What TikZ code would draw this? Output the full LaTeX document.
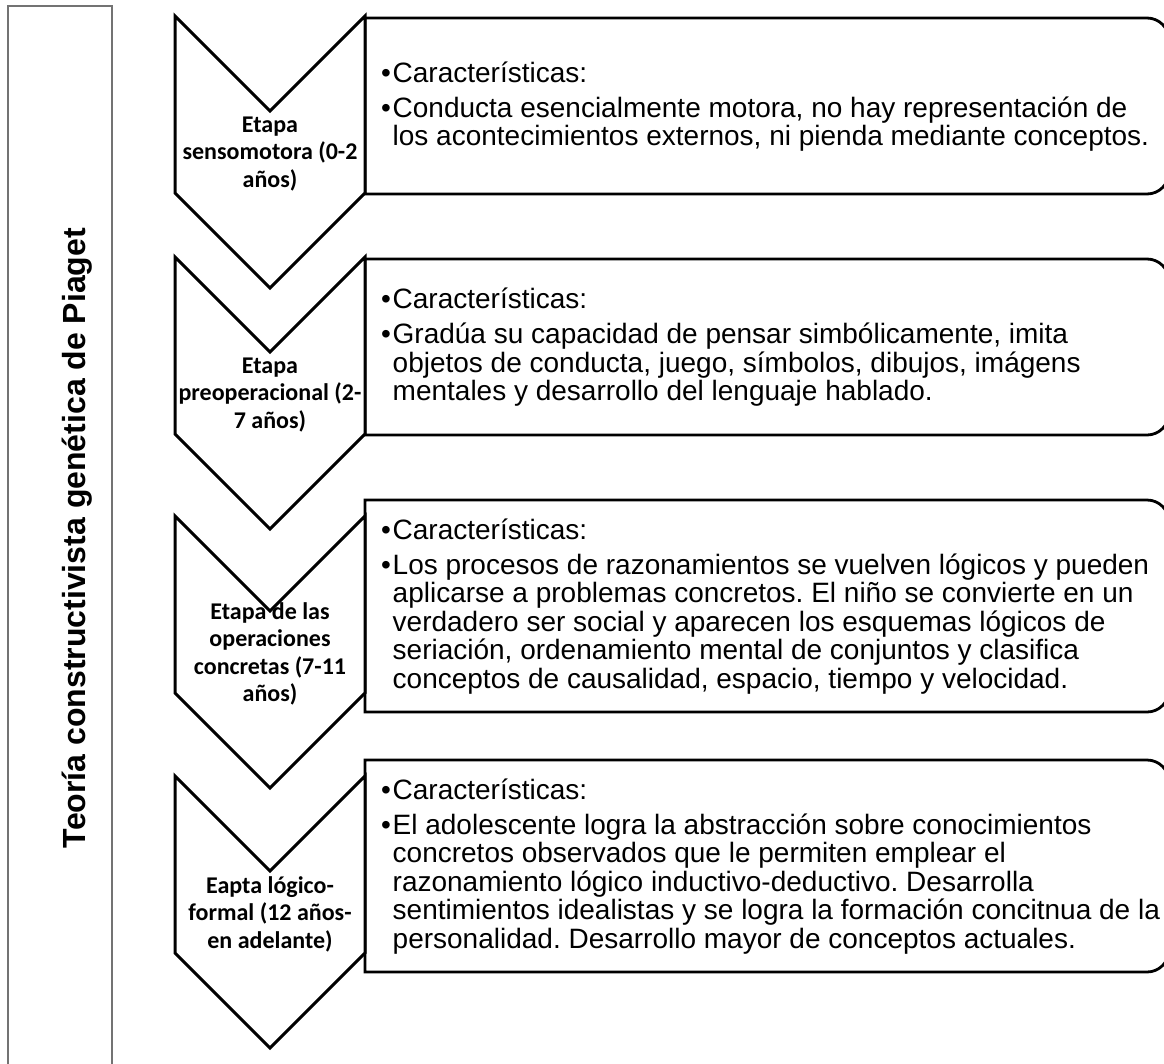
\documentclass[tikz,border=0pt]{standalone}
\usepackage{fontspec}
\setmainfont{Liberation Sans}
\newfontfamily\chevfont{Carlito}
\frenchspacing
\newcommand{\bulline}[1]{\hbox{\makebox[11.5pt][l]{•}#1}}
\newcommand{\contline}[1]{\hbox{\hspace{11.5pt}#1}}
\newcommand{\paragap}{\vskip 6.5pt}
\begin{document}
\begin{tikzpicture}[x=1pt,y=-1pt,
  chev/.style={draw=black, line width=3pt, fill=white, line join=miter},
  infobox/.style={draw=black, line width=2.8pt, fill=white},
  framebox/.style={draw=black!55, line width=1.3pt},
  chevtext/.style={font=\chevfont\bfseries\fontsize{24}{27.5}\selectfont, align=center, inner sep=0pt},
  infotext/.style={font=\frenchspacing\fontsize{28}{28.5}\selectfont, inner sep=0pt, anchor=base west},
  titletext/.style={font=\bfseries\fontsize{32}{38}\selectfont, inner sep=0pt, anchor=base, rotate=90}
]
\useasboundingbox (0,0) rectangle (1164,1063);
\clip (0,0) rectangle (1164,1063);
\fill[white] (0,0) rectangle (1164,1063);

% left frame with title
\draw[framebox] (8,1075) -- (8,6) -- (112,6) -- (112,1075);
\node[titletext] (title) at (85,538) {Teoría constructivista genética de Piaget};

% right boxes (rounded on the right side)
\foreach \t/\b in {18/194, 259/435, 500/712, 760/972}{
  \draw[infobox] (365,\t) -- (1147,\t) .. controls (1159.14,\t) and (1169,\t+9.86) .. (1169,\t+22)
    -- (1169,\b-22) .. controls (1169,\b-9.86) and (1159.14,\b) .. (1147,\b) -- (365,\b) -- cycle;
}

% chevrons
\foreach \T in {16, 257, 516, 776}{
  \draw[chev] (175,\T) -- (270,\T+95) -- (365,\T) -- (365,\T+177) -- (270,\T+272) -- (175,\T+177) -- cycle;
}

% chevron labels
\node[chevtext] (c1) at (270,154) {Etapa\\sensomotora (0-2\\años)};
\node[chevtext] (c2) at (270,395) {Etapa\\preoperacional (2-\\7 años)};
\node[chevtext] (c3) at (270,654) {Etapa de las\\operaciones\\concretas (7-11\\años)};
\node[chevtext] (c4) at (270,914) {Eapta lógico-\\formal (12 años-\\en adelante)};

% box texts
\node[infotext] (t1) at (381,82) {\vtop{\baselineskip=28.5pt\lineskiplimit=-100pt
  \bulline{Características:}\paragap
  \bulline{Conducta esencialmente motora, no hay representación de}
  \contline{los acontecimientos externos, ni pienda mediante conceptos.}}};
\node[infotext] (t2) at (381,308.5) {\vtop{\baselineskip=28.5pt\lineskiplimit=-100pt
  \bulline{Características:}\paragap
  \bulline{Gradúa su capacidad de pensar simbólicamente, imita}
  \contline{objetos de conducta, juego, símbolos, dibujos, imágens}
  \contline{mentales y desarrollo del lenguaje hablado.}}};
\node[infotext] (t3) at (381,539) {\vtop{\baselineskip=28.5pt\lineskiplimit=-100pt
  \bulline{Características:}\paragap
  \bulline{Los procesos de razonamientos se vuelven lógicos y pueden}
  \contline{aplicarse a problemas concretos. El niño se convierte en un}
  \contline{verdadero ser social y aparecen los esquemas lógicos de}
  \contline{seriación, ordenamiento mental de conjuntos y clasifica}
  \contline{conceptos de causalidad, espacio, tiempo y velocidad.}}};
\node[infotext] (t4) at (381,799) {\vtop{\baselineskip=28.5pt\lineskiplimit=-100pt
  \bulline{Características:}\paragap
  \bulline{El adolescente logra la abstracción sobre conocimientos}
  \contline{concretos observados que le permiten emplear el}
  \contline{razonamiento lógico inductivo-deductivo. Desarrolla}
  \contline{sentimientos idealistas y se logra la formación concitnua de la}
  \contline{personalidad. Desarrollo mayor de conceptos actuales.}}};
\end{tikzpicture}
\end{document}
